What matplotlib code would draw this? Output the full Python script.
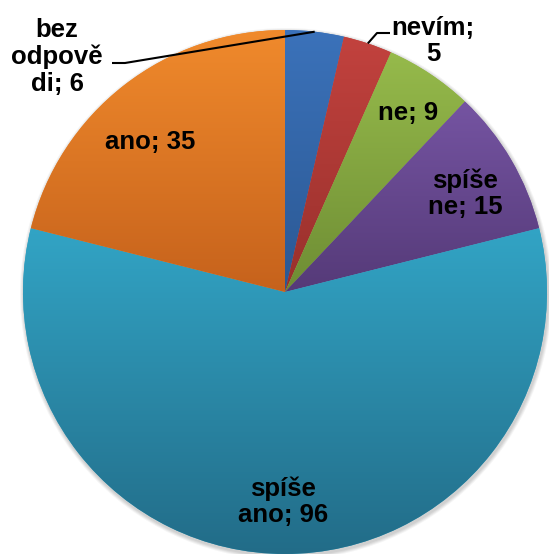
import numpy as np
import matplotlib
matplotlib.use("Agg")
import matplotlib.pyplot as plt
from matplotlib.colors import LinearSegmentedColormap
from matplotlib.patches import Circle

plt.rcParams['font.family'] = ['Liberation Sans', 'DejaVu Sans']

names = ["bez odpovědi", "nevím", "ne", "spíše ne", "spíše ano", "ano"]
values = [6, 5, 9, 15, 96, 35]
label_texts = ["bez\nodpově\ndi; 6", "nevím;\n5", "ne; 9", "spíše\nne; 15", "spíše\nano; 96", "ano; 35"]
top_colors = ["#3B72BA", "#C2423E", "#96BA4B", "#7554A2", "#32A4C5", "#F08A2C"]
bottom_colors = ["#2B5893", "#98302C", "#6E8D34", "#553A78", "#226C88", "#C6621C"]

W, H = 549, 554
fig = plt.figure(figsize=(W / 100, H / 100), dpi=100)
ax = fig.add_axes([0, 0, 1, 1])
ax.set_xlim(0, W)
ax.set_ylim(0, H)
ax.set_aspect('equal')
ax.axis('off')

cx, cy = 285, H - 292
R = 262

# soft shadow
for i, a in enumerate([0.05, 0.05, 0.05, 0.04]):
    ax.add_patch(Circle((cx + 1, cy - 2), R + 1 + i, color='black', alpha=a, lw=0, zorder=0))

wedges, _ = ax.pie(values, startangle=90, counterclock=False, radius=R, center=(cx, cy),
                   colors=top_colors, wedgeprops=dict(linewidth=0))

grad = np.linspace(0, 1, 256).reshape(-1, 1)
for w, c1, c2 in zip(wedges, top_colors, bottom_colors):
    w.set_zorder(1)
    verts = w.get_path().vertices
    x0, x1 = verts[:, 0].min(), verts[:, 0].max()
    y0, y1 = verts[:, 1].min(), verts[:, 1].max()
    cmap = LinearSegmentedColormap.from_list('g', [c1, c2])
    im = ax.imshow(grad, cmap=cmap, extent=(x0, x1, y0, y1), origin='upper',
                   aspect='auto', zorder=2, interpolation='bilinear')
    im.set_clip_path(w)

ax.set_xlim(0, W)
ax.set_ylim(0, H)

# label positions (pixel layout)
label_pos = [(57, H - 57), (433, H - 41), (408, H - 113), (465, H - 194), (283, H - 502), (150, H - 142)]
for (x, y), t in zip(label_pos, label_texts):
    ax.text(x, y, t, ha='center', va='center', fontsize=18.5, fontweight='bold',
            color='black', linespacing=1.13, zorder=5)

# leader lines from wedge mid-arc
total = sum(values)
cum = np.cumsum([0] + values)
def arc_point(i):
    mid = (cum[i] + cum[i + 1]) / 2 / total * 2 * np.pi
    return cx + R * np.sin(mid), cy + R * np.cos(mid)

px, py = arc_point(0)
ax.plot([px, 125, 112], [py, H - 63, H - 63], color='black', lw=1.5, zorder=6, solid_capstyle='butt')
px, py = arc_point(1)
ax.plot([px, 377, 390], [py, H - 33, H - 33], color='black', lw=1.5, zorder=6, solid_capstyle='butt')

fig.savefig("out.png", dpi=100)
